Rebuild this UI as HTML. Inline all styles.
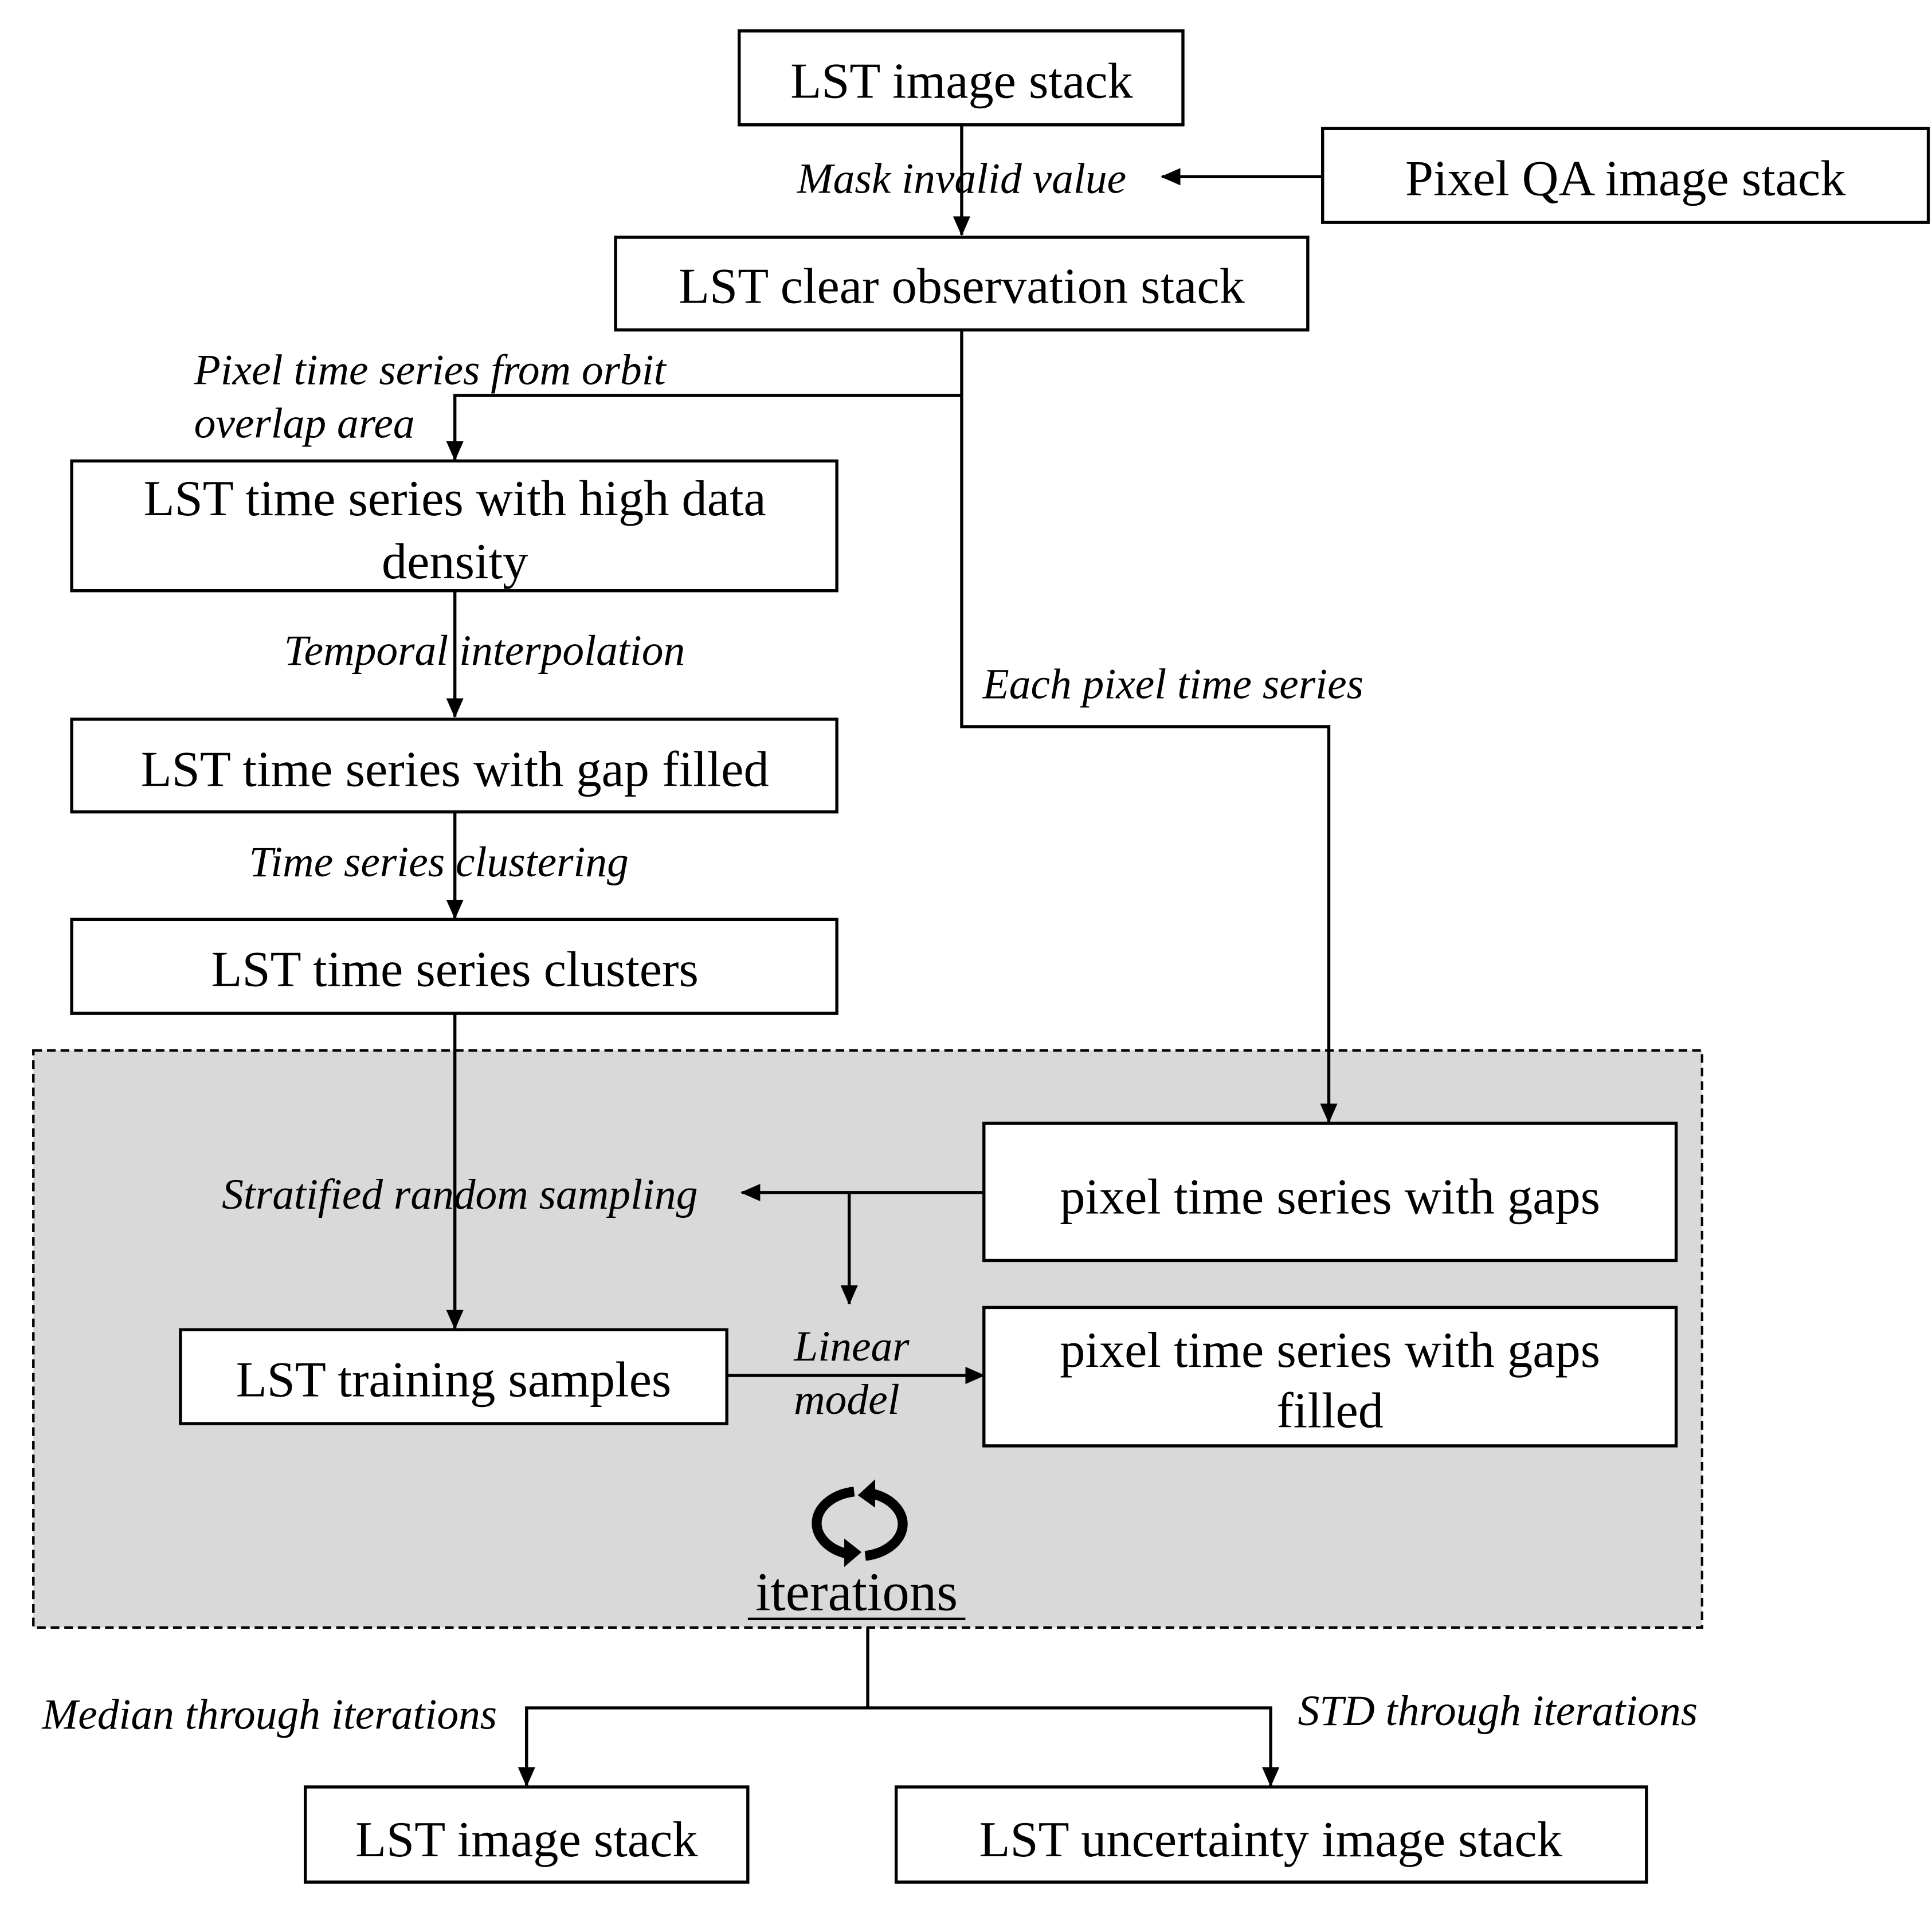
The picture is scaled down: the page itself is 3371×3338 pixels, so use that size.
<!DOCTYPE html>
<html><head><meta charset="utf-8"><style>
html,body{margin:0;padding:0;background:#fff}
svg{display:block}
text{font-family:"Liberation Serif",serif;fill:#000}
.b{font-size:41px;text-anchor:middle}
.i{font-size:35px;font-style:italic}
.bx{fill:#fff;stroke:#000;stroke-width:2.5}
.l{stroke:#000;stroke-width:2.5;fill:none}
</style></head><body>
<svg width="3371" height="3338" viewBox="0 0 1563 1548" preserveAspectRatio="none" xmlns="http://www.w3.org/2000/svg">
<defs>
<marker id="a2" markerWidth="16" markerHeight="14" refX="15" refY="7" orient="auto" markerUnits="userSpaceOnUse"><path d="M0,0 L16,7 L0,14 Z" fill="#000"/></marker></defs>
<rect x="27" y="850" width="1350" height="467" fill="#d9d9d9" stroke="#000" stroke-width="2" stroke-dasharray="7,4"/>
<line class="l" x1="778" y1="101" x2="778" y2="190" marker-end="url(#a2)"/>
<line class="l" x1="1070" y1="143" x2="940" y2="143" marker-end="url(#a2)"/>
<polyline class="l" points="778,267 778,588 1075,588 1075,908" marker-end="url(#a2)"/>
<polyline class="l" points="778,320 368,320 368,372" marker-end="url(#a2)"/>
<line class="l" x1="368" y1="478" x2="368" y2="580" marker-end="url(#a2)"/>
<line class="l" x1="368" y1="657" x2="368" y2="743" marker-end="url(#a2)"/>
<line class="l" x1="368" y1="820" x2="368" y2="1075" marker-end="url(#a2)"/>
<line class="l" x1="796" y1="965" x2="600" y2="965" marker-end="url(#a2)"/>
<line class="l" x1="687" y1="965" x2="687" y2="1055" marker-end="url(#a2)"/>
<line class="l" x1="588" y1="1113" x2="796" y2="1113" marker-end="url(#a2)"/>
<line class="l" x1="702" y1="1317" x2="702" y2="1382"/>
<polyline class="l" points="426,1445 426,1382 1028,1382 1028,1445" marker-end="url(#a2)"/>
<line class="l" x1="426" y1="1390" x2="426" y2="1445" marker-end="url(#a2)"/>
<rect class="bx" x="598" y="25" width="359" height="76"/><text class="b" x="778" y="79">LST image stack</text>
<rect class="bx" x="1070" y="104" width="490" height="76"/><text class="b" x="1315" y="158">Pixel QA image stack</text>
<rect class="bx" x="498" y="192" width="560" height="75"/><text class="b" x="778" y="245">LST clear observation stack</text>
<rect class="bx" x="58" y="373" width="619" height="105"/><text class="b" x="368" y="417">LST time series with high data</text><text class="b" x="368" y="468">density</text>
<rect class="bx" x="58" y="582" width="619" height="75"/><text class="b" x="368" y="636">LST time series with gap filled</text>
<rect class="bx" x="58" y="744" width="619" height="76"/><text class="b" x="368" y="798">LST time series clusters</text>
<rect class="bx" x="796" y="909" width="560" height="111"/><text class="b" x="1076" y="982">pixel time series with gaps</text>
<rect class="bx" x="146" y="1076" width="442" height="76"/><text class="b" x="367" y="1130">LST training samples</text>
<rect class="bx" x="796" y="1058" width="560" height="112"/><text class="b" x="1076" y="1106">pixel time series with gaps</text><text class="b" x="1076" y="1155">filled</text>
<rect class="bx" x="247" y="1446" width="358" height="77"/><text class="b" x="426" y="1502">LST image stack</text>
<rect class="bx" x="725" y="1446" width="607" height="77"/><text class="b" x="1028" y="1502">LST uncertainty image stack</text>
<text class="i" x="778" y="156" text-anchor="middle">Mask invalid value</text>
<text class="i" x="157" y="311">Pixel time series from orbit</text>
<text class="i" x="157" y="354">overlap area</text>
<text class="i" x="392" y="538" text-anchor="middle">Temporal interpolation</text>
<text class="i" x="795" y="565">Each pixel time series</text>
<text class="i" x="355" y="709" text-anchor="middle">Time series clustering</text>
<text class="i" x="372" y="978" text-anchor="middle">Stratified random sampling</text>
<text class="i" x="689" y="1101" text-anchor="middle">Linear</text>
<text class="i" x="685" y="1144" text-anchor="middle">model</text>
<text class="i" x="34" y="1399">Median through iterations</text>
<text class="i" x="1050" y="1396">STD through iterations</text>
<path d="M691,1207 A36,26 0 0 0 684,1257" stroke="#000" stroke-width="8" fill="none"/>
<path d="M683,1245 L697,1256 L683,1268 Z" fill="#000"/>
<path d="M700,1259 A36,26 0 0 0 707,1209" stroke="#000" stroke-width="8" fill="none"/>
<path d="M708,1197 L694,1210 L708,1220 Z" fill="#000"/>
<text x="693" y="1303" text-anchor="middle" style="font-size:44px">iterations</text>
<line x1="605" y1="1310" x2="781" y2="1310" stroke="#000" stroke-width="2"/>
</svg>
</body></html>
